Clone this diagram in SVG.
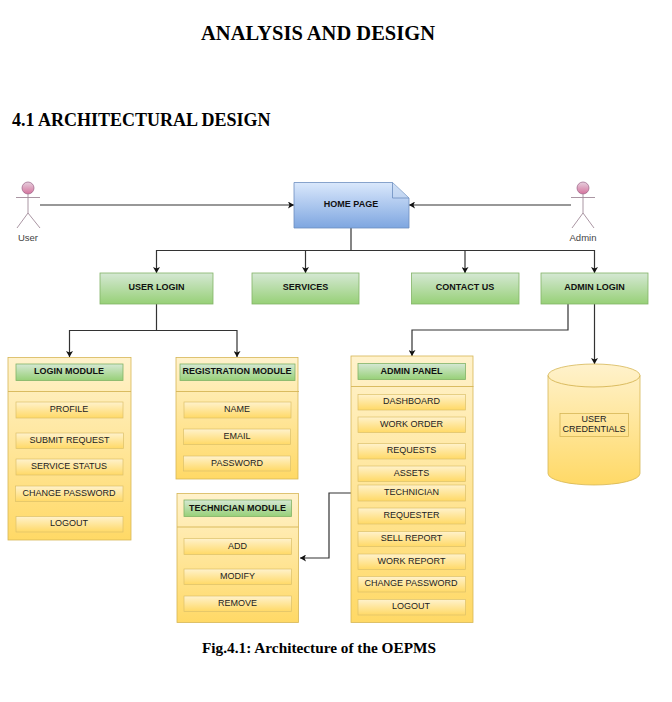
<svg xmlns="http://www.w3.org/2000/svg" width="672" height="702" viewBox="0 0 672 702">
<style>
text{font-family:"Liberation Sans",Arial,sans-serif;font-size:9px;fill:#222;text-anchor:middle}
.h{font-family:"Liberation Serif","Times New Roman",serif;font-weight:bold;fill:#000}
.b{font-weight:bold;fill:#111}
.l{font-size:9.5px;fill:#444}
.y{fill:url(#gy);stroke:#d6b656;stroke-width:.8}
.i{fill:url(#gy);stroke:#dcc06a;stroke-width:.7}
.g{fill:url(#gg);stroke:#82b366;stroke-width:.8}
.k{fill:none;stroke:#333;stroke-width:1.2}
.d{fill:none;stroke:#d6b656;stroke-width:.9}
.a{fill:url(#gp);stroke:#996185;stroke-width:.7}
.s{fill:none;stroke:#a08a98;stroke-width:.9}
</style>
<defs>
<linearGradient id="gy" x1="0" y1="0" x2="0" y2="1"><stop offset="0" stop-color="#fff2cc"/><stop offset="1" stop-color="#ffd966"/></linearGradient>
<linearGradient id="gg" x1="0" y1="0" x2="0" y2="1"><stop offset="0" stop-color="#d5e8d4"/><stop offset="1" stop-color="#97d077"/></linearGradient>
<linearGradient id="gb" x1="0" y1="0" x2="0" y2="1"><stop offset="0" stop-color="#dae8fc"/><stop offset="1" stop-color="#7ea6e0"/></linearGradient>
<linearGradient id="gp" x1="0" y1="0" x2="0" y2="1"><stop offset="0" stop-color="#e6d0de"/><stop offset="1" stop-color="#d5739d"/></linearGradient>
<marker id="ar" markerUnits="userSpaceOnUse" markerWidth="7" markerHeight="7" refX="6" refY="3.5" orient="auto"><path d="M0 0L6 3.5L0 7L1.500 3.5Z" fill="#111"/></marker>
</defs>
<rect width="672" height="702" fill="#fff"/>
<text class="h" x="318" y="39.500" style="font-size:20.500px">ANALYSIS AND DESIGN</text>
<text class="h" x="12" y="126" style="font-size:18px;text-anchor:start">4.1 ARCHITECTURAL DESIGN</text>
<text class="h" x="319" y="653" style="font-size:15.300px">Fig.4.1: Architecture of the OEPMS</text>

<g id="connectors" class="connectors">
<path class="k" marker-end="url(#ar)" d="M40 205H294"/>
<path class="k" marker-end="url(#ar)" d="M571 205H409"/>
<path class="k" d="M351 228V250.500"/>
<path class="k" marker-end="url(#ar)" d="M351 250.500H156.500V273"/>
<path class="k" marker-end="url(#ar)" d="M305.500 250.500V273"/>
<path class="k" marker-end="url(#ar)" d="M351 250.500H465V273"/>
<path class="k" marker-end="url(#ar)" d="M465 250.500H594.500V273"/>
<path class="k" marker-end="url(#ar)" d="M156.500 304V330.500H69.500V357"/>
<path class="k" marker-end="url(#ar)" d="M156.500 330.500H237V357"/>
<path class="k" marker-end="url(#ar)" d="M568 304V330H412V356"/>
<path class="k" marker-end="url(#ar)" d="M594.500 304V364"/>
<path class="k" marker-end="url(#ar)" d="M358 493H329V558H300"/>
</g>

<g id="user"><circle class="a" cx="28" cy="188" r="6"/><path class="s" d="M16 197.500H40M28 194V213M28 213L17 228M28 213L40 228"/><text class="l" x="28" y="241">User</text></g>
<g id="admin"><circle class="a" cx="583" cy="188" r="6"/><path class="s" d="M571 197.500H595M583 194V213M583 213L572 228M583 213L594 228"/><text class="l" x="583" y="241">Admin</text></g>
<g id="home-page"><path d="M294 182.500H392.500L409 198V228H294Z" fill="url(#gb)" stroke="#6c8ebf" stroke-width=".8"/><path d="M392.500 182.500V198H409" fill="#c5d8f0" fill-opacity=".5" stroke="#6c8ebf" stroke-width=".8"/><text class="b" x="351" y="206.500">HOME PAGE</text></g>

<g id="user-login"><rect class="g" x="100" y="273" width="113" height="31"/><text class="b" x="156.500" y="290">USER LOGIN</text></g>
<g id="services"><rect class="g" x="252" y="273" width="107" height="31"/><text class="b" x="305.500" y="290">SERVICES</text></g>
<g id="contact-us"><rect class="g" x="411.500" y="273" width="107.500" height="31"/><text class="b" x="465" y="290">CONTACT US</text></g>
<g id="admin-login"><rect class="g" x="541" y="273" width="107" height="31"/><text class="b" x="594.500" y="290">ADMIN LOGIN</text></g>

<g id="login-module"><rect class="y" x="8" y="357.500" width="123" height="182.500"/><path class="d" d="M8 391.500H131"/>
<rect class="g" x="16" y="364" width="107" height="16.500"/><text class="b" x="69" y="374">LOGIN MODULE</text>
<rect class="i" x="16" y="402" width="107" height="16"/><text x="69" y="412">PROFILE</text>
<rect class="i" x="16" y="433" width="107.500" height="15.500"/><text x="69.500" y="442.800">SUBMIT REQUEST</text>
<rect class="i" x="16" y="459" width="107" height="16"/><text x="69" y="469">SERVICE STATUS</text>
<rect class="i" x="15.500" y="486" width="107.500" height="15.500"/><text x="69" y="495.800">CHANGE PASSWORD</text>
<rect class="i" x="16" y="516.500" width="107" height="15.500"/><text x="69" y="526">LOGOUT</text></g>

<g id="registration-module"><rect class="y" x="176" y="357.500" width="122" height="121.500"/><path class="d" d="M176 391.500H299"/>
<rect class="g" x="180" y="364" width="115" height="16.500"/><text class="b" x="237" y="374">REGISTRATION MODULE</text>
<rect class="i" x="184" y="402" width="107" height="16"/><text x="237" y="412">NAME</text>
<rect class="i" x="183.500" y="429" width="107" height="15.500"/><text x="237" y="439">EMAIL</text>
<rect class="i" x="183.500" y="456" width="107" height="15"/><text x="237" y="465.500">PASSWORD</text></g>

<g id="technician-module"><rect class="y" x="177" y="493.500" width="121.500" height="129"/><path class="d" d="M177 527H298.500"/>
<rect class="g" x="184" y="500" width="107.500" height="16.500"/><text class="b" x="237.500" y="510.500">TECHNICIAN MODULE</text>
<rect class="i" x="184" y="538.500" width="107.500" height="16"/><text x="237.500" y="548.500">ADD</text>
<rect class="i" x="184" y="569" width="107.500" height="15.500"/><text x="237.500" y="579">MODIFY</text>
<rect class="i" x="184" y="596" width="107.500" height="15.500"/><text x="237.500" y="605.500">REMOVE</text></g>

<g id="admin-panel"><rect class="y" x="351" y="356" width="122" height="266.500"/><path class="d" d="M351 386.500H473.500"/>
<rect class="g" x="358" y="363.500" width="107.500" height="16"/><text class="b" x="411.500" y="373.500">ADMIN PANEL</text>
<rect class="i" x="358" y="394.500" width="107.500" height="15.500"/><text x="411.500" y="403.800">DASHBOARD</text>
<rect class="i" x="358" y="417" width="107.500" height="15.500"/><text x="411.500" y="426.800">WORK ORDER</text>
<rect class="i" x="358" y="443.500" width="107.500" height="15.500"/><text x="411.500" y="453.300">REQUESTS</text>
<rect class="i" x="358" y="466" width="107.500" height="15.500"/><text x="411.500" y="475.800">ASSETS</text>
<rect class="i" x="358" y="485" width="107.500" height="16"/><text x="411.500" y="495">TECHNICIAN</text>
<rect class="i" x="358" y="508" width="107.500" height="16"/><text x="411.500" y="518">REQUESTER</text>
<rect class="i" x="358" y="531.500" width="107.500" height="15"/><text x="411.500" y="541">SELL REPORT</text>
<rect class="i" x="358" y="554" width="107.500" height="15.500"/><text x="411.500" y="563.500">WORK REPORT</text>
<rect class="i" x="358" y="576.500" width="107.500" height="15.500"/><text x="411" y="586.300">CHANGE PASSWORD</text>
<rect class="i" x="358" y="599.500" width="107.500" height="15.500"/><text x="411" y="609">LOGOUT</text></g>

<g id="user-credentials"><path class="y" d="M548 375.500A46 11.500 0 0 1 640 375.500V473.500A46 11.500 0 0 1 548 473.500Z"/><path class="d" d="M548 375.500A46 11.500 0 0 0 640 375.500"/>
<rect x="560" y="413.500" width="68.500" height="23" fill="none" stroke="#d6b656" stroke-width=".8"/><text x="594" y="421.500">USER</text><text x="594" y="432">CREDENTIALS</text></g>
</svg>
